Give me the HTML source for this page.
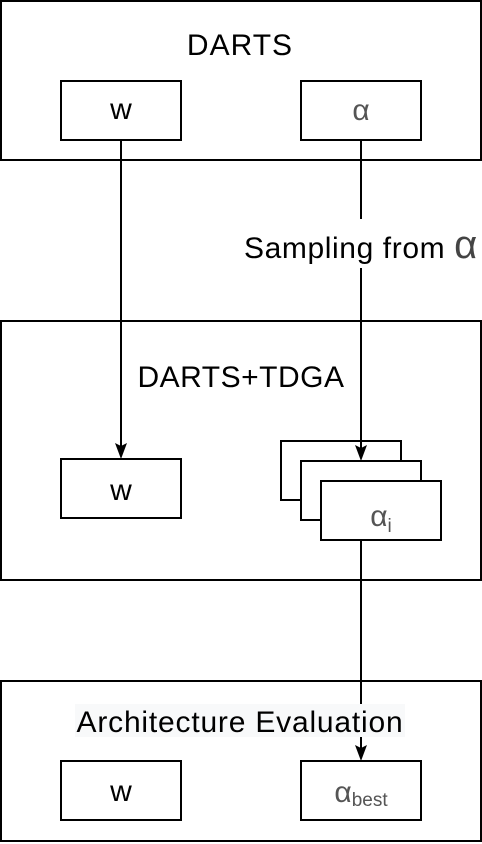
<!DOCTYPE html>
<html><head><meta charset="utf-8"><style>html,body{margin:0;padding:0;background:#fff;}svg{display:block}</style></head>
<body>
<svg width="482" height="844" xmlns="http://www.w3.org/2000/svg" font-family="Liberation Sans, sans-serif">
<g fill="#fff" stroke="#000" stroke-width="2">
<rect x="1" y="1" width="480" height="159"/>
<rect x="1" y="321" width="480" height="259"/>
<rect x="1" y="681" width="480" height="160"/>
<rect x="61" y="81" width="120" height="59"/>
<rect x="301" y="81" width="120" height="59"/>
<rect x="61" y="459" width="120" height="59"/>
<rect x="281" y="441" width="120" height="59"/>
<rect x="301" y="461" width="120" height="59"/>
<rect x="321" y="481" width="120" height="59"/>
<rect x="61" y="761" width="120" height="59"/>
<rect x="301" y="761" width="120" height="59"/>
</g>
<g stroke="#000" stroke-width="2" fill="none">
<line x1="121" y1="140" x2="121" y2="448"/>
<line x1="361" y1="140" x2="361" y2="219"/>
<line x1="361" y1="268" x2="361" y2="450"/>
<line x1="361" y1="540" x2="361" y2="704"/>
<line x1="361" y1="737" x2="361" y2="750"/>
</g>
<g fill="#000">
<path d="M115,443 L121,446 L127,443 L121,459 Z"/>
<path d="M355,445 L361,448 L367,445 L361,461 Z"/>
<path d="M355,745 L361,748 L367,745 L361,761 Z"/>
</g>
<rect x="75" y="704" width="330" height="33" fill="#f8f9fa"/>
<g font-size="30" fill="#000" text-anchor="middle">
<text x="240" y="55" letter-spacing="1">DARTS</text>
<text x="241" y="387" letter-spacing="0.5">DARTS+TDGA</text>
<text x="240" y="732" letter-spacing="0.8">Architecture Evaluation</text>
<text x="121" y="119">w</text>
<text x="121" y="500">w</text>
<text x="121" y="801">w</text>
<text x="361" y="120" fill="#555">α</text>
<text x="244" y="258" text-anchor="start" letter-spacing="0.6">Sampling from <tspan font-size="40" fill="#444" letter-spacing="0">α</tspan></text>
<text x="381" y="526" fill="#555">α<tspan font-size="19" dy="6">i</tspan></text>
<text x="361" y="802" fill="#555">α<tspan font-size="19" dy="4">best</tspan></text>
</g>
</svg>
</body></html>
